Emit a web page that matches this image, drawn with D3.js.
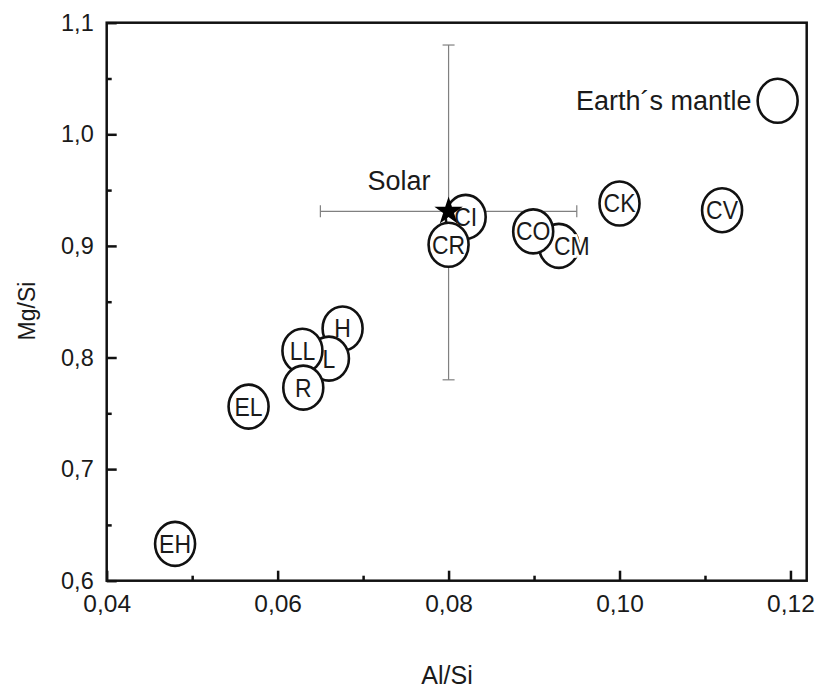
<!DOCTYPE html>
<meta charset="utf-8">
<head>
  <title>Mg/Si vs Al/Si</title>
</head>
<style>
  body { margin: 0; background: #fff; }
  .txt { font-family: "Liberation Sans", Arial, sans-serif; fill: #1a1a1a; }
</style>
<body>
<svg id="chart"></svg>
<script src="https://cdnjs.cloudflare.com/ajax/libs/d3/7.8.5/d3.min.js"></script>
<script>
// chondrite groups, drawn in this order (later ones cover earlier ones)
var groups = ["EH", "EL", "H", "L", "LL", "R", "CM", "CO", "CI", "CR", "CK", "CV"];
var alSi   = [0.0480, 0.0566, 0.0676, 0.0660, 0.0629, 0.0630, 0.0929, 0.0899, 0.0820, 0.0800, 0.1000, 0.1120];
var mgSi   = [0.633, 0.756, 0.826, 0.799, 0.806, 0.773, 0.900, 0.913, 0.926, 0.901, 0.938, 0.932];

var earth = {label: "Earth\u00b4s mantle", al: 0.1185, mg: 1.030};
var solar = {label: "Solar", al: 0.0800, mg: 0.931};
var solarAlRange = [0.065, 0.095];
var solarMgRange = [0.78, 1.08];

var xTicks = [0.04, 0.06, 0.08, 0.10, 0.12];
var xMinor = [0.05, 0.07, 0.09, 0.11];
var yTicks = [0.6, 0.7, 0.8, 0.9, 1.0, 1.1];
var yMinor = [0.65, 0.75, 0.85, 0.95, 1.05];

var W = 816, H = 688;
var margin = {top: 22.7, right: 9.3, bottom: 107.3, left: 106.7};

var svg = d3.select("#chart").attr("width", W).attr("height", H);

var x = d3.scaleLinear().domain([0.04, 0.1219]).range([margin.left, W - margin.right]);
var y = d3.scaleLinear().domain([0.6, 1.1]).range([H - margin.bottom, margin.top]);

var comma = function(f) { return function(d) { return d3.format(f)(d).replace(".", ","); }; };

// error bars for solar value (behind the circles)
var eb = svg.append("g").attr("stroke", "#808080").attr("stroke-width", 1.2);
eb.append("line")
  .attr("x1", x(solarAlRange[0])).attr("x2", x(solarAlRange[1]))
  .attr("y1", y(solar.mg)).attr("y2", y(solar.mg));
eb.append("line")
  .attr("x1", x(solar.al)).attr("x2", x(solar.al))
  .attr("y1", y(solarMgRange[0])).attr("y2", y(solarMgRange[1]));
solarAlRange.forEach(function(v) {
  eb.append("line").attr("x1", x(v)).attr("x2", x(v))
    .attr("y1", y(solar.mg) - 6).attr("y2", y(solar.mg) + 6);
});
solarMgRange.forEach(function(v) {
  eb.append("line").attr("x1", x(solar.al) - 6).attr("x2", x(solar.al) + 6)
    .attr("y1", y(v)).attr("y2", y(v));
});

// circles with labels
var pts = groups.map(function(g, i) { return {g: g, al: alSi[i], mg: mgSi[i]}; });
var labelShift = {CM: 13};

var node = svg.selectAll("g.pt")
  .data(pts)
  .enter()
  .append("g")
  .attr("class", "pt")
  .attr("transform", function(d) { return "translate(" + x(d.al) + "," + y(d.mg) + ")"; });

node.append("ellipse")
  .attr("rx", 20).attr("ry", 22)
  .attr("fill", "#fff")
  .attr("stroke", "#111")
  .attr("stroke-width", 2.6);

node.append("text")
  .attr("class", "txt")
  .attr("text-anchor", "middle")
  .attr("transform", function(d) { return "translate(" + (labelShift[d.g] || 0) + ",9) scale(1,1.12)"; })
  .attr("font-size", 23)
  .attr("stroke", function(d) { return labelShift[d.g] ? "#fff" : "none"; })
  .attr("stroke-width", 5)
  .attr("paint-order", "stroke")
  .text(function(d) { return d.g; });

// Earth's mantle
svg.append("ellipse")
  .attr("cx", x(earth.al)).attr("cy", y(earth.mg))
  .attr("rx", 20).attr("ry", 22)
  .attr("fill", "#fff").attr("stroke", "#111").attr("stroke-width", 2.6);
svg.append("text")
  .attr("class", "txt")
  .attr("text-anchor", "end")
  .attr("font-size", 27)
  .attr("x", x(earth.al) - 26).attr("y", y(earth.mg) + 9)
  .text(earth.label);

// solar star
svg.append("path")
  .attr("d", d3.symbol().type(d3.symbolStar).size(250)())
  .attr("transform", "translate(" + x(solar.al) + "," + y(solar.mg) + ")")
  .attr("fill", "#000");
svg.append("text")
  .attr("class", "txt")
  .attr("text-anchor", "end")
  .attr("font-size", 27)
  .attr("x", x(solar.al) - 18).attr("y", y(solar.mg) - 21)
  .text(solar.label);

// frame
svg.append("rect")
  .attr("x", margin.left).attr("y", margin.top)
  .attr("width", W - margin.left - margin.right)
  .attr("height", H - margin.top - margin.bottom)
  .attr("fill", "none").attr("stroke", "#111").attr("stroke-width", 2.5);

// axes
function styleAxis(g) {
  g.select(".domain").remove();
  g.selectAll(".tick line").attr("stroke", "#111").attr("stroke-width", 2.5);
  g.selectAll(".tick text").attr("class", "txt").attr("fill", "#1a1a1a")
    .style("font-family", "'Liberation Sans', Arial, sans-serif");
}

svg.append("g")
  .attr("transform", "translate(0," + y.range()[0] + ")")
  .call(d3.axisBottom(x).tickValues(xTicks).tickFormat(comma(".2f")).tickSize(-10).tickPadding(14))
  .call(styleAxis)
  .selectAll("text").attr("font-size", 24.5);

svg.append("g")
  .attr("transform", "translate(0," + y.range()[0] + ")")
  .call(d3.axisBottom(x).tickValues(xMinor).tickFormat("").tickSize(-5))
  .call(styleAxis);

svg.append("g")
  .attr("transform", "translate(" + margin.left + ",0)")
  .call(d3.axisLeft(y).tickValues(yTicks).tickFormat(comma(".1f")).tickSize(-10).tickPadding(13))
  .call(styleAxis)
  .selectAll("text").attr("font-size", 23.5);

svg.append("g")
  .attr("transform", "translate(" + margin.left + ",0)")
  .call(d3.axisLeft(y).tickValues(yMinor).tickFormat("").tickSize(-5))
  .call(styleAxis);

// axis titles
svg.append("text")
  .attr("class", "txt")
  .attr("text-anchor", "middle")
  .attr("font-size", 25)
  .attr("x", 447).attr("y", 684)
  .text("Al/Si");

svg.append("text")
  .attr("class", "txt")
  .attr("text-anchor", "middle")
  .attr("font-size", 23)
  .attr("transform", "translate(35,311) rotate(-90)")
  .text("Mg/Si");
</script>
</body>
</html>
